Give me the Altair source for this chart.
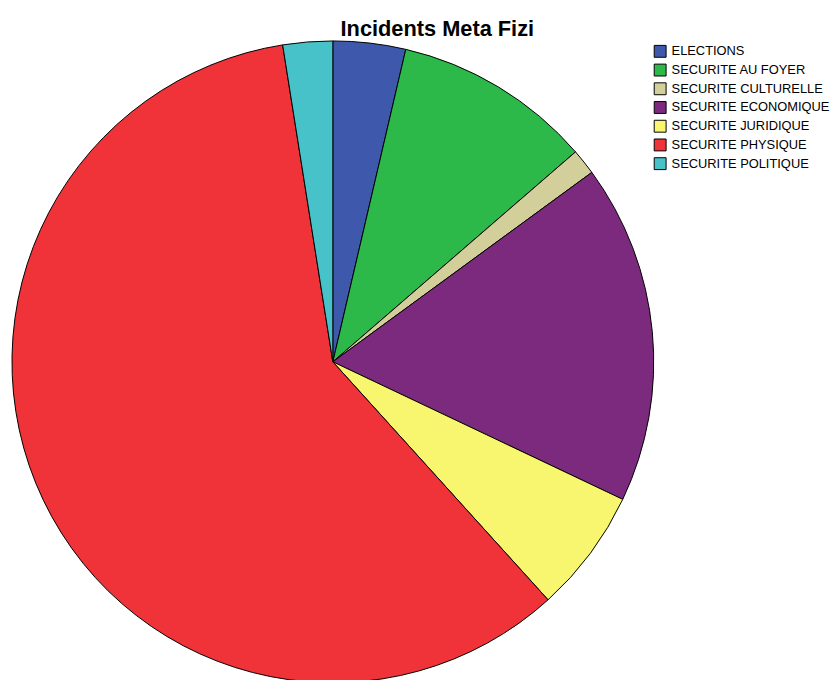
import altair as alt
import pandas as pd

categories = ["ELECTIONS", "SECURITE AU FOYER", "SECURITE CULTURELLE", "SECURITE ECONOMIQUE",
              "SECURITE JURIDIQUE", "SECURITE PHYSIQUE", "SECURITE POLITIQUE"]
values = [3.65, 10.0, 1.3, 17.1, 6.25, 59.2, 2.5]
colors = ["#3e58ac", "#2db84a", "#d2cf9b", "#7b2a7d", "#f8f56e", "#ef3339", "#47c2c8"]

df = pd.DataFrame({"cat": categories, "val": values, "ord": list(range(len(categories)))})

chart = alt.Chart(df).mark_arc(radius=324, stroke="black", strokeWidth=1).encode(
    theta=alt.Theta("val:Q", stack=True),
    order=alt.Order("ord:Q"),
    x=alt.value(328),
    y=alt.value(324),
    color=alt.Color("cat:N", sort=categories,
                    scale=alt.Scale(domain=categories, range=colors),
                    legend=alt.Legend(title=None, orient="none", legendX=652, legendY=4,
                                      symbolType="square", symbolSize=144,
                                      symbolStrokeColor="black", symbolStrokeWidth=1,
                                      symbolOpacity=1, symbolFillColor=None,
                                      labelFont="Liberation Sans", labelFontSize=13,
                                      labelLimit=300,
                                      labelColor="black", rowPadding=1.9, labelOffset=5)),
).properties(
    width=831, height=642,
    title=alt.TitleParams("Incidents Meta Fizi", font="Liberation Sans", fontSize=22,
                          fontWeight="bold", color="black", anchor="middle", dx=18, offset=-2),
    autosize=alt.AutoSizeParams(type="none"),
    padding={"top": 30, "left": 0, "right": 0, "bottom": 0},
).configure_view(stroke=None)

chart.save("out.html", embed_options={"renderer": "svg", "actions": False})
